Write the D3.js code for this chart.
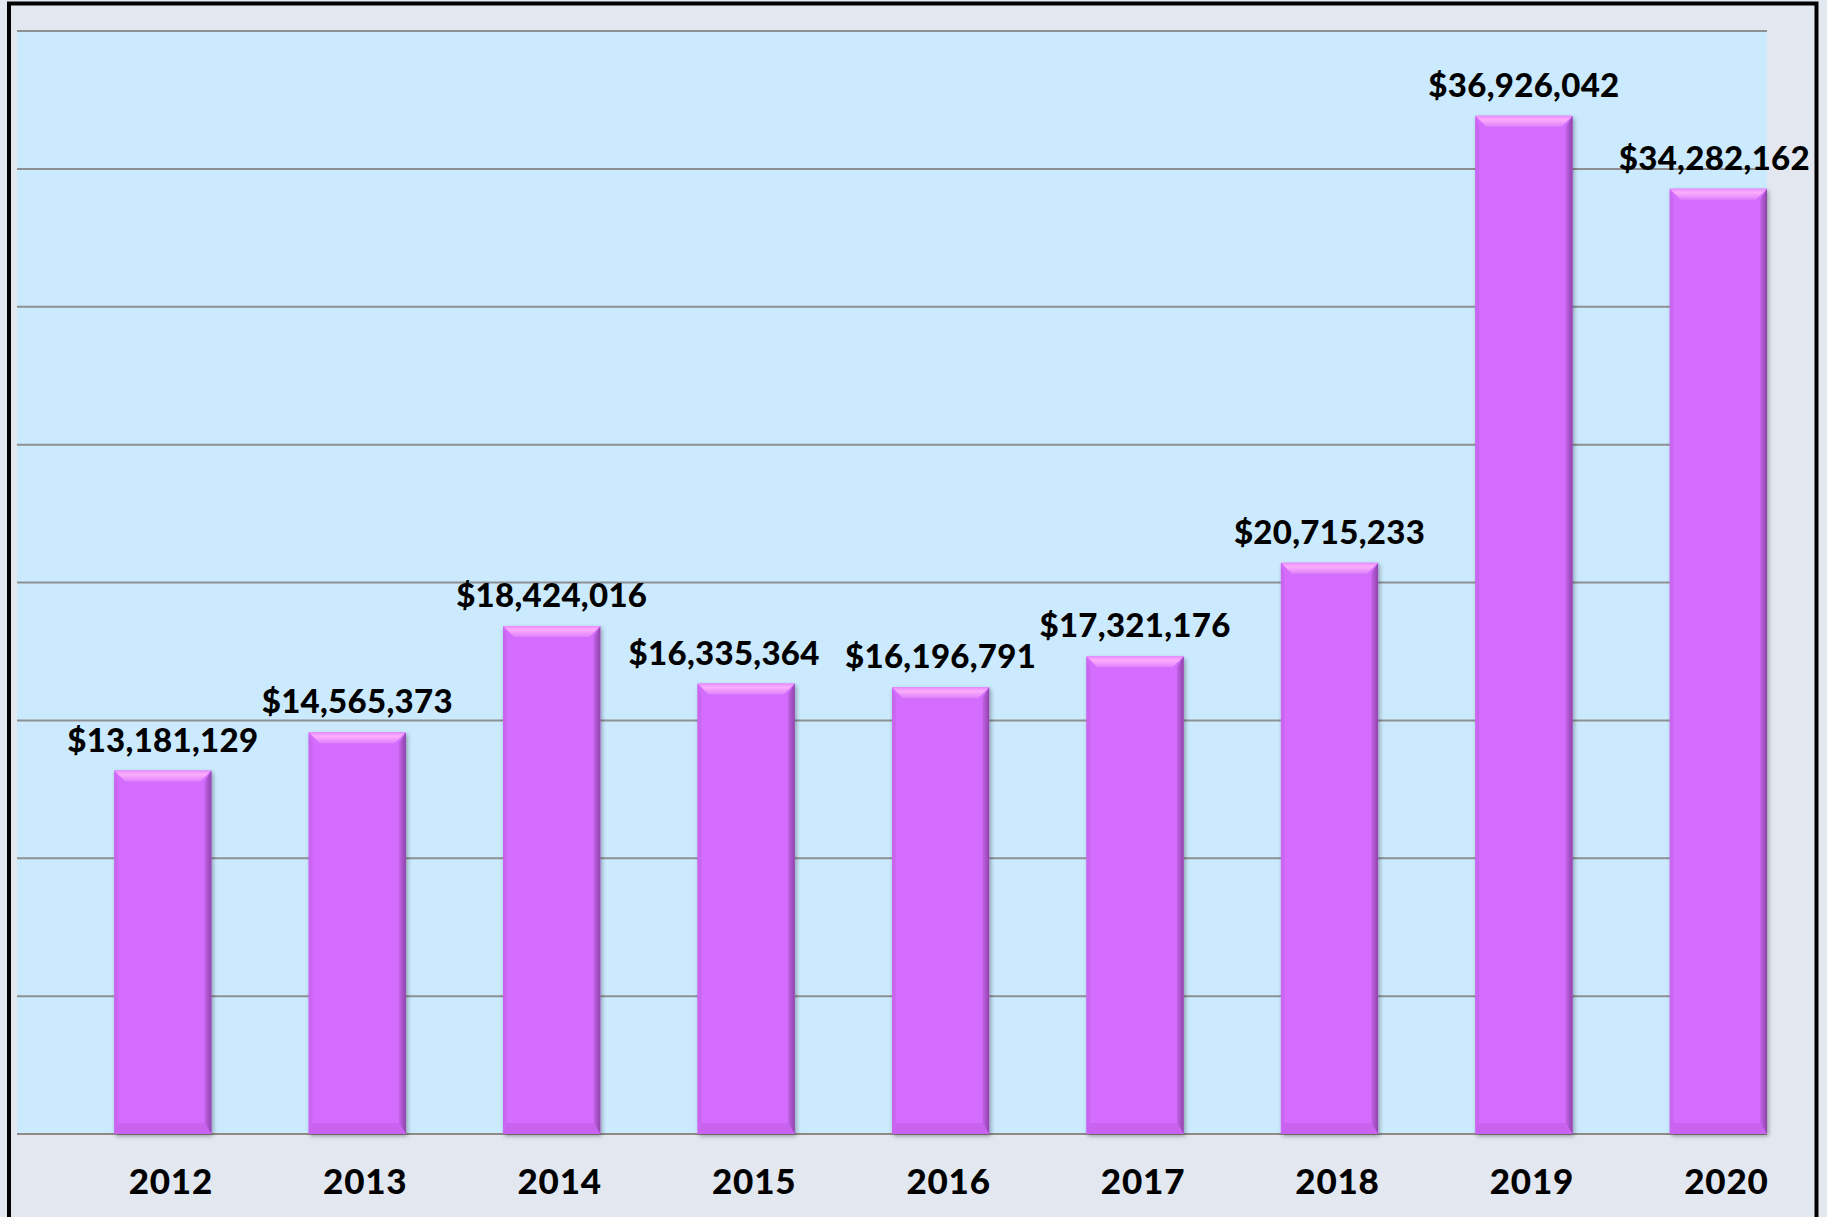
<!DOCTYPE html>
<html>
<head>
<meta charset="utf-8">
<script src="https://cdn.jsdelivr.net/npm/d3@7"></script>
<style>
  html, body { margin: 0; padding: 0; background: #e3e8f0; }
  svg { display: block; }
</style>
</head>
<body>
<div id="chart"></div>
<script>
var years = ["2012", "2013", "2014", "2015", "2016", "2017", "2018", "2019", "2020"];
var amounts = [13181129, 14565373, 18424016, 16335364, 16196791, 17321176, 20715233, 36926042, 34282162];
var gridValues = [5000000, 10000000, 15000000, 20000000, 25000000, 30000000, 35000000, 40000000];

function init() {
    const width = 1827;
    const height = 1217;
    const plot = { left: 17, right: 1767, top: 31, bottom: 1134 };
    const bevel = 11;
    const labelFont = "Lato, 'Open Sans', sans-serif";

    var svg = d3.select("#chart")
        .append("svg")
        .attr("width", width)
        .attr("height", height);

    var defs = svg.append("defs");

    // drop shadow for the bars
    var shadow = defs.append("filter")
        .attr("id", "shadow")
        .attr("x", "-10%").attr("y", "-10%")
        .attr("width", "130%").attr("height", "130%");
    shadow.append("feDropShadow")
        .attr("dx", 1.5).attr("dy", 2)
        .attr("stdDeviation", 2)
        .attr("flood-color", "#000")
        .attr("flood-opacity", 0.35);

    var topGrad = defs.append("linearGradient")
        .attr("id", "topBevel")
        .attr("x1", 0).attr("y1", 0).attr("x2", 0).attr("y2", 1);
    topGrad.append("stop").attr("offset", "0%").attr("stop-color", "#e98cfb");
    topGrad.append("stop").attr("offset", "35%").attr("stop-color", "#fbaefb");
    topGrad.append("stop").attr("offset", "100%").attr("stop-color", "#df80fc");

    var rightGrad = defs.append("linearGradient")
        .attr("id", "rightBevel")
        .attr("x1", 0).attr("y1", 0).attr("x2", 1).attr("y2", 0);
    rightGrad.append("stop").attr("offset", "0%").attr("stop-color", "#c563ea");
    rightGrad.append("stop").attr("offset", "100%").attr("stop-color", "#8e44a8");

    // outer frame
    svg.append("rect")
        .attr("x", 9).attr("y", 3.5)
        .attr("width", 1807.5).attr("height", 1300)
        .attr("fill", "#e3e8f0")
        .attr("stroke", "#000")
        .attr("stroke-width", 4);

    // plot area
    svg.append("rect")
        .attr("x", plot.left).attr("y", plot.top - 1)
        .attr("width", plot.right - plot.left)
        .attr("height", plot.bottom - plot.top + 1)
        .attr("fill", "#cbeafe");

    var xScale = d3.scaleBand()
        .domain(years)
        .range([plot.left, plot.right])
        .paddingInner(0.5)
        .paddingOuter(0.25)
        .align(1);

    var yScale = d3.scaleLinear()
        .domain([0, 40000000])
        .range([plot.bottom, plot.top]);

    // gridlines
    svg.append("g")
        .selectAll("line")
        .data(gridValues)
        .enter()
        .append("line")
        .attr("x1", plot.left).attr("x2", plot.right)
        .attr("y1", d => yScale(d)).attr("y2", d => yScale(d))
        .attr("stroke", "#8d8f92")
        .attr("stroke-width", 2);

    // baseline
    svg.append("line")
        .attr("x1", plot.left).attr("x2", plot.right)
        .attr("y1", yScale(0)).attr("y2", yScale(0))
        .attr("stroke", "#8f8a86")
        .attr("stroke-width", 2);

    var bw = xScale.bandwidth();

    var bars = svg.selectAll("g.bar")
        .data(amounts)
        .enter()
        .append("g")
        .attr("class", "bar")
        .attr("transform", (d, i) => `translate(${xScale(years[i])},${yScale(d)})`);

    bars.append("rect")
        .attr("width", bw)
        .attr("height", d => yScale(0) - yScale(d))
        .attr("fill", "#d46cfd")
        .attr("filter", "url(#shadow)");

    // left bevel
    bars.append("path")
        .attr("d", d => {
            var h = yScale(0) - yScale(d);
            return `M0,0 L${bevel / 3},${bevel} L${bevel / 3},${h - bevel} L0,${h} Z`;
        })
        .attr("fill", "#c966f0");

    // right bevel
    bars.append("path")
        .attr("d", d => {
            var h = yScale(0) - yScale(d);
            return `M${bw},0 L${bw - bevel / 1.6},${bevel} L${bw - bevel / 1.6},${h - bevel} L${bw},${h} Z`;
        })
        .attr("fill", "url(#rightBevel)");

    // bottom bevel
    bars.append("path")
        .attr("d", d => {
            var h = yScale(0) - yScale(d);
            return `M0,${h} L${bevel / 3},${h - bevel} L${bw - bevel / 1.6},${h - bevel} L${bw},${h} Z`;
        })
        .attr("fill", "#c862ef");

    // top bevel
    bars.append("path")
        .attr("d", `M0,0 L${bw},0 L${bw - bevel},${bevel} L${bevel},${bevel} Z`)
        .attr("fill", "url(#topBevel)");

    // value labels (2015 nudged left so it clears 2016, 2020 slightly left)
    var nudge = { "2015": -22, "2020": -4 };
    svg.append("g")
        .selectAll("text")
        .data(amounts)
        .enter()
        .append("text")
        .attr("x", (d, i) => xScale(years[i]) + bw / 2 + (nudge[years[i]] || 0))
        .attr("y", d => yScale(d) - 19)
        .attr("text-anchor", "middle")
        .attr("font-family", labelFont)
        .attr("font-weight", 900)
        .attr("font-size", 33)
        .attr("letter-spacing", 0.3)
        .attr("fill", "#000")
        .text(d => "$" + d3.format(",")(d));

    // x axis labels
    var xAxis = svg.append("g")
        .attr("transform", `translate(8,${plot.bottom})`)
        .call(d3.axisBottom(xScale).tickSize(0).tickPadding(35));
    xAxis.select(".domain").remove();
    xAxis.selectAll("text")
        .attr("font-family", labelFont)
        .attr("font-weight", 900)
        .attr("font-size", 35)
        .attr("letter-spacing", 0.8)
        .attr("fill", "#000");
}

init();
</script>
</body>
</html>
